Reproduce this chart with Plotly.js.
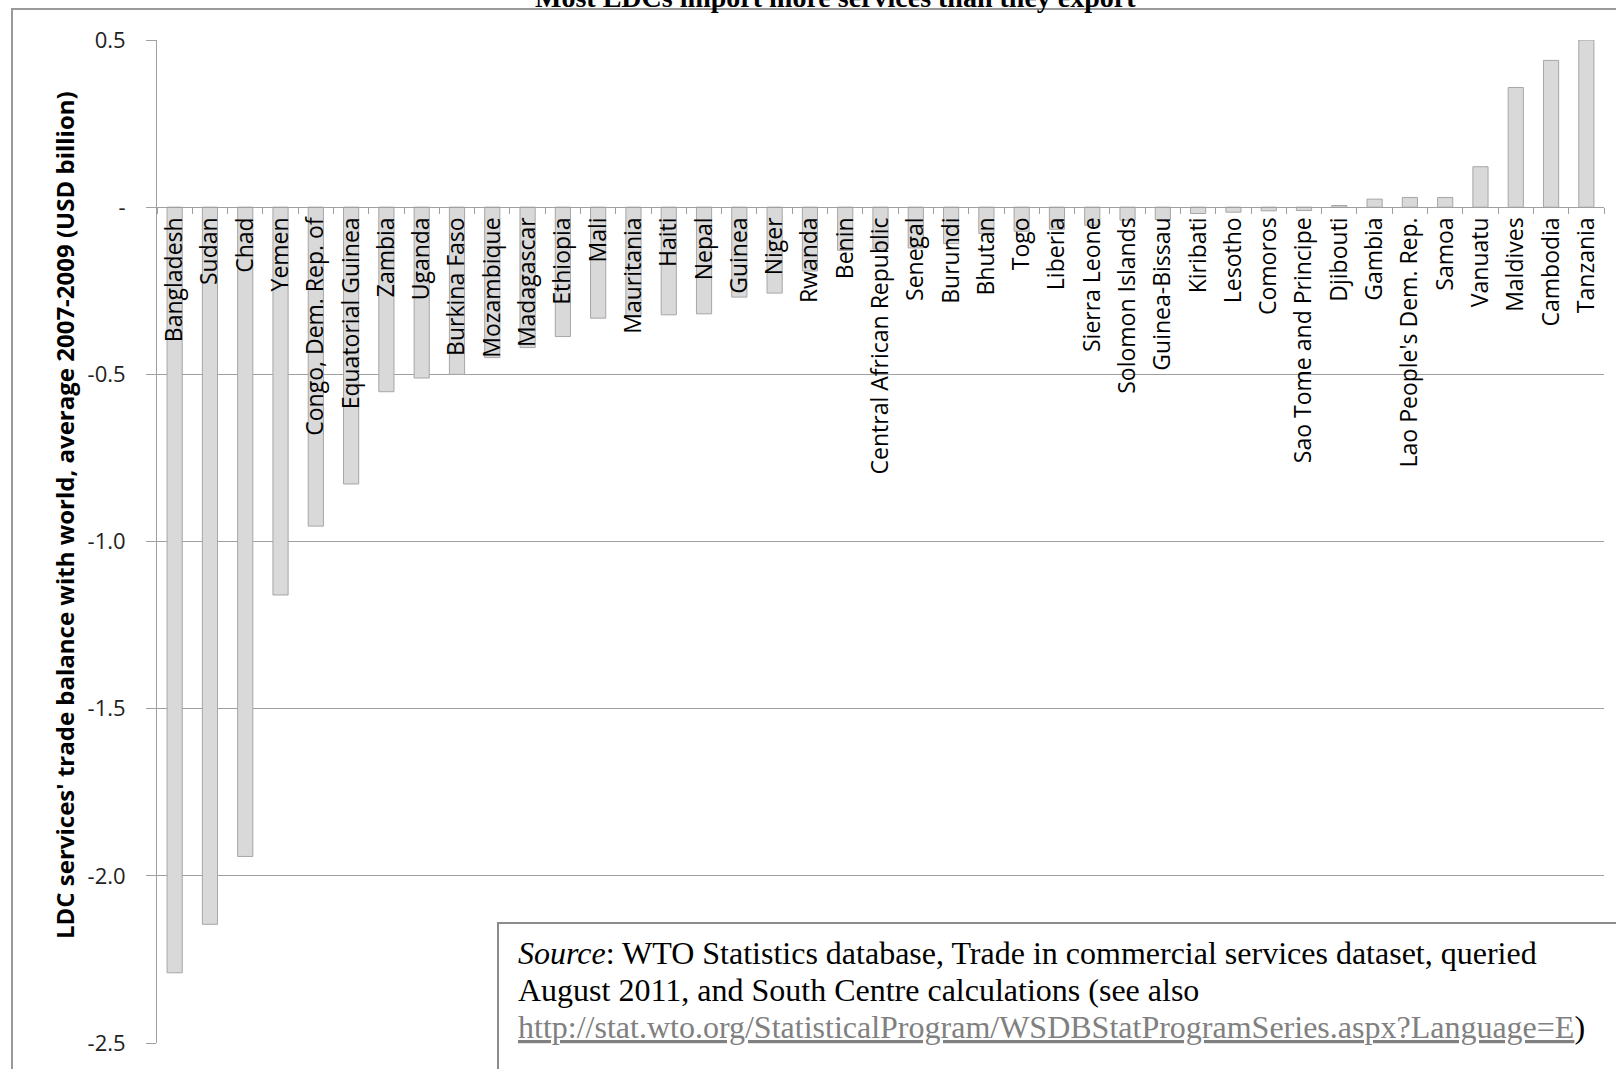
<!DOCTYPE html>
<html>
<head>
<meta charset="utf-8">
<script src="https://cdn.plot.ly/plotly-3.0.1.min.js"></script>
<style>
  html, body { margin: 0; padding: 0; background: #ffffff; overflow: hidden; }
  #chart { width: 1616px; height: 1069px; }
</style>
</head>
<body>
<div id="chart"></div>
<script>
// ---- Data ----
const categories = [
  "Bangladesh", "Sudan", "Chad", "Yemen", "Congo, Dem. Rep. of", "Equatorial Guinea",
  "Zambia", "Uganda", "Burkina Faso", "Mozambique", "Madagascar", "Ethiopia", "Mali",
  "Mauritania", "Haiti", "Nepal", "Guinea", "Niger", "Rwanda", "Benin",
  "Central African Republic", "Senegal", "Burundi", "Bhutan", "Togo", "Liberia",
  "Sierra Leone", "Solomon Islands", "Guinea-Bissau", "Kiribati", "Lesotho", "Comoros",
  "Sao Tome and Principe", "Djibouti", "Gambia", "Lao People's Dem. Rep.", "Samoa",
  "Vanuatu", "Maldives", "Cambodia", "Tanzania"
];
const balance = [
  -2.29, -2.145, -1.942, -1.16, -0.954, -0.828,
  -0.552, -0.511, -0.500, -0.45, -0.42, -0.387, -0.332,
  -0.326, -0.322, -0.319, -0.269, -0.257, -0.191, -0.129,
  -0.125, -0.122, -0.109, -0.079, -0.072, -0.066,
  -0.054, -0.039, -0.037, -0.019, -0.015, -0.011,
  -0.010, 0.005, 0.024, 0.029, 0.029,
  0.121, 0.358, 0.439, 0.50
];
const yTickVals = [0.5, 0, -0.5, -1.0, -1.5, -2.0, -2.5];
const yTickText = ["0.5", "-", "-0.5", "-1.0", "-1.5", "-2.0", "-2.5"];
const yRange = [-2.5, 0.5];

const chartTitle = "Most LDCs import more services than they export";
const yTitle = "LDC services' trade balance with world, average 2007-2009 (USD billion)";
const sourceLines = [
  "<i>Source</i>: WTO Statistics database, Trade in commercial services dataset, queried",
  "August 2011, and South Centre calculations (see also",
  "<span style=\"color:#808080\"><u>http://stat.wto.org/StatisticalProgram/WSDBStatProgramSeries.aspx?Language=E</u></span>)"
];

// ---- Layout geometry (pixels) ----
const W = 1616, H = 1069;
const M = { l: 157, r: 12, t: 40, b: 26 };
const PW = W - M.l - M.r, PH = H - M.t - M.b;
const px = x => (x - M.l) / PW;          // pixel -> paper x
const py = y => 1 - (y - M.t) / PH;      // pixel -> paper y
const zeroPos = (0 - yRange[0]) / (yRange[1] - yRange[0]);

const gridCol = "#a0a0a0";

const trace = {
  type: "bar",
  x: categories,
  y: balance,
  width: 0.43,
  marker: { color: "#d9d9d9", line: { color: "#a6a6a6", width: 1 } },
  hoverinfo: "x+y"
};

const annotations = [
  {
    xref: "paper", yref: "paper", x: px(835), y: py(-2),
    xanchor: "center", yanchor: "middle", showarrow: false,
    text: "<b>" + chartTitle + "</b>",
    font: { family: "Liberation Serif, Times New Roman, serif", size: 28, color: "#000" }
  },
  {
    xref: "paper", yref: "paper", x: px(64), y: py(515),
    xanchor: "center", yanchor: "middle", showarrow: false, textangle: -90,
    text: "<b>" + yTitle + "</b>",
    font: { family: "Open Sans, sans-serif", size: 24, color: "#000" }
  }
];
const srcCenters = [953, 990, 1027];
sourceLines.forEach((t, i) => {
  annotations.push({
    xref: "paper", yref: "paper", x: px(516), y: py(srcCenters[i]),
    xanchor: "left", yanchor: "middle", align: "left", showarrow: false,
    text: t,
    font: { family: "Liberation Serif, Times New Roman, serif", size: 32, color: "#000" }
  });
});

const layout = {
  width: W, height: H,
  margin: M,
  paper_bgcolor: "#ffffff",
  plot_bgcolor: "#ffffff",
  showlegend: false,
  font: { family: "Open Sans, sans-serif", color: "#000" },
  xaxis: {
    type: "category",
    anchor: "free",
    position: zeroPos,
    showline: true, linecolor: gridCol, linewidth: 1,
    showgrid: false, zeroline: false,
    ticks: "outside", tickson: "boundaries", ticklen: 6, tickcolor: gridCol, tickwidth: 1,
    tickangle: -90,
    tickfont: { family: "Open Sans, sans-serif", size: 23, color: "#000" },
    automargin: false
  },
  yaxis: {
    range: yRange,
    tickvals: yTickVals, ticktext: yTickText,
    showgrid: true, gridcolor: gridCol, gridwidth: 1,
    zeroline: false,
    showline: true, linecolor: gridCol, linewidth: 1,
    ticks: "outside", ticklen: 10, tickcolor: gridCol,
    ticklabelstandoff: 16,
    tickfont: { family: "Open Sans, sans-serif", size: 22, color: "#222" },
    automargin: false
  },
  shapes: [
    { type: "rect", xref: "paper", yref: "paper",
      x0: px(12), x1: px(1630), y0: py(1090), y1: py(9),
      line: { color: "#9a9a9a", width: 2 }, fillcolor: "rgba(0,0,0,0)", layer: "above" },
    { type: "rect", xref: "paper", yref: "paper",
      x0: px(498), x1: px(1630), y0: py(1090), y1: py(923),
      line: { color: "#8c8c8c", width: 2 }, fillcolor: "#ffffff", layer: "above" }
  ],
  annotations: annotations
};

Plotly.newPlot("chart", [trace], layout, { displayModeBar: false, staticPlot: true });
</script>
</body>
</html>
